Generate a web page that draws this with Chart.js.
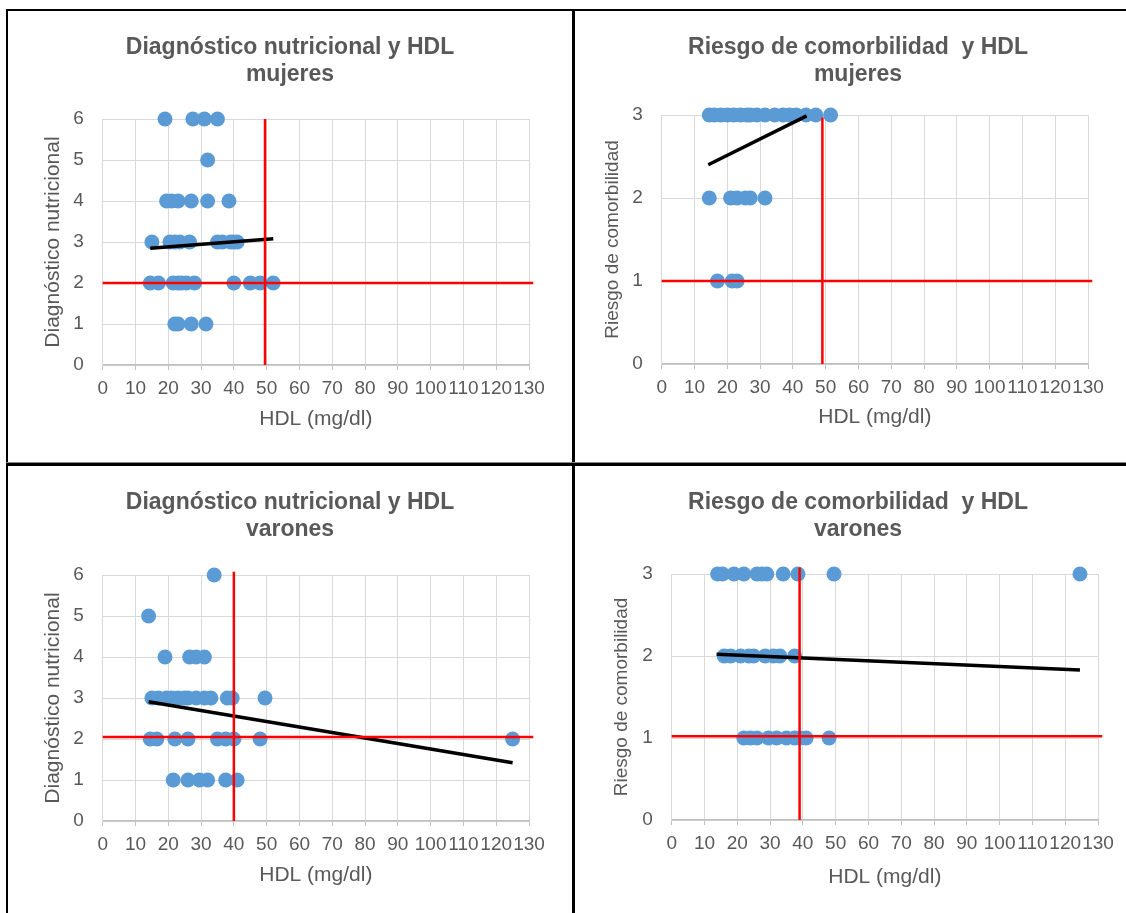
<!DOCTYPE html>
<html>
<head>
<meta charset="utf-8">
<script src="https://cdn.jsdelivr.net/npm/chart.js@4/dist/chart.umd.min.js"></script>
<style>
  body { margin: 0; background: #fff; width: 1126px; height: 913px; overflow: hidden; position: relative; }
  .line { position: absolute; background: #000; }
  .panel { position: absolute; }
</style>
</head>
<body>
<!-- table borders around the four charts -->
<div class="line" style="left:6px;top:9px;width:1120px;height:2px;"></div>
<div class="line" style="left:6px;top:9px;width:2px;height:904px;"></div>
<div class="line" style="left:572px;top:9px;width:3px;height:904px;"></div>
<div class="line" style="left:6px;top:462px;width:1120px;height:4px;background:linear-gradient(#888 0,#888 1px,#000 1px);"></div>

<div class="panel" style="left:9px;top:12px;"><canvas id="chartOne" width="562" height="450"></canvas></div>
<div class="panel" style="left:576px;top:12px;"><canvas id="chartTwo" width="550" height="450"></canvas></div>
<div class="panel" style="left:9px;top:466px;"><canvas id="chartThree" width="562" height="447"></canvas></div>
<div class="panel" style="left:576px;top:466px;"><canvas id="chartFour" width="550" height="447"></canvas></div>

<script>
// Setup values
var hdlTicks = [0, 10, 20, 30, 40, 50, 60, 70, 80, 90, 100, 110, 120, 130];
var dxTicks = [0, 1, 2, 3, 4, 5, 6];
var riskTicks = [0, 1, 2, 3];

// Diagnostico nutricional - mujeres
var dxMujHdl = [19, 27.5, 31, 35, 32, 19.5, 21, 23, 27, 32, 38.5,
  15, 20.5, 22, 23.5, 26.5, 35, 36.5, 39, 40, 41,
  14.5, 17, 21.5, 23, 24, 25.5, 28, 40, 45, 48, 52,
  22, 23, 27, 31.5];
var dxMujVal = [6, 6, 6, 6, 5, 4, 4, 4, 4, 4, 4,
  3, 3, 3, 3, 3, 3, 3, 3, 3, 3,
  2, 2, 2, 2, 2, 2, 2, 2, 2, 2, 2,
  1, 1, 1, 1];
var dxMujTrendHdl = [14.5, 52];
var dxMujTrendVal = [2.85, 3.08];

// Riesgo de comorbilidad - mujeres
var riskMujHdl = [14.5, 16, 18, 20, 22, 24, 26, 27, 29, 31.5, 34.5, 37, 39, 41, 44, 47, 51.5,
  14.5, 21, 23, 25.5, 27, 31.5,
  17, 21.5, 23];
var riskMujVal = [3, 3, 3, 3, 3, 3, 3, 3, 3, 3, 3, 3, 3, 3, 3, 3, 3,
  2, 2, 2, 2, 2, 2,
  1, 1, 1];
var riskMujTrendHdl = [14.2, 44.2];
var riskMujTrendVal = [2.4, 2.99];

// Diagnostico nutricional - varones
var dxVarHdl = [34, 14, 19, 26.5, 28.5, 31,
  15, 17, 19.5, 21, 23, 25, 26, 28.5, 31, 33, 38, 39.5, 49.5,
  14.5, 16.5, 22, 26, 35, 37.5, 40, 48, 125,
  21.5, 26, 29.5, 32, 37.5, 41];
var dxVarVal = [6, 5, 4, 4, 4, 4,
  3, 3, 3, 3, 3, 3, 3, 3, 3, 3, 3, 3, 3,
  2, 2, 2, 2, 2, 2, 2, 2, 2,
  1, 1, 1, 1, 1, 1];
var dxVarTrendHdl = [14, 125];
var dxVarTrendVal = [2.91, 1.42];

// Riesgo de comorbilidad - varones
var riskVarHdl = [14, 15.5, 19, 22, 26, 27.5, 29, 34, 38.5, 49.5, 124.5,
  16, 18, 21, 23.5, 25, 28.5, 31, 33, 37.5,
  22, 24, 26, 29.5, 32, 35, 37.5, 39, 41, 48];
var riskVarVal = [3, 3, 3, 3, 3, 3, 3, 3, 3, 3, 3,
  2, 2, 2, 2, 2, 2, 2, 2, 2,
  1, 1, 1, 1, 1, 1, 1, 1, 1, 1];
var riskVarTrendHdl = [13.7, 124.5];
var riskVarTrendVal = [2.02, 1.83];

// Red cut lines (HDL cut, value cut)
var cutMujHdl = [49.5, 49];
var cutVarHdl = [40, 39];
var cutDx = 2;
var cutRisk = 1;

var grey = "#595959";
var fontName = "'Liberation Sans', Arial, sans-serif";

// tiny helper instead of jQuery
function $(sel){ return document.querySelector(sel); }

function toPoints(xs, ys){
  return xs.map(function (x, i) { return { x: x, y: ys[i] }; });
}

function makeChart(id, cfg){
  var canvas = $("#" + id);
  var yTicks = cfg.yTicks;
  var yMax = yTicks[yTicks.length - 1];
  new Chart(canvas.getContext("2d"), {
    type: "scatter",
    data: {
      datasets: [
        // red vertical
        { type: "line", data: [{ x: cfg.cutX, y: 0 }, { x: cfg.cutX, y: cfg.cutTop }],
          borderColor: "#ff0000", borderWidth: 2.5, pointRadius: 0, clip: false },
        // red horizontal
        { type: "line", data: [{ x: 0, y: cfg.cutY }, { x: 131.3, y: cfg.cutY }],
          borderColor: "#ff0000", borderWidth: 2.5, pointRadius: 0, clip: false },
        // trend
        { type: "line", data: toPoints(cfg.trendX, cfg.trendY),
          borderColor: "#000000", borderWidth: 3.5, pointRadius: 0, clip: false },
        // points
        { data: toPoints(cfg.xs, cfg.ys), backgroundColor: "#5b9bd5",
          borderWidth: 0, pointRadius: 7.5, clip: false }
      ]
    },
    options: {
      responsive: false,
      animation: false,
      layout: { padding: { left: cfg.padLeft, right: cfg.padRight, top: 0, bottom: 0 } },
      plugins: {
        legend: { display: false },
        tooltip: { enabled: false },
        title: {
          display: true,
          text: cfg.title,
          color: grey,
          font: { family: fontName, size: 23, weight: "bold", lineHeight: 1.174 },
          padding: { top: cfg.titleTop, bottom: cfg.titleBottom }
        }
      },
      scales: {
        x: {
          type: "linear", min: 0, max: 130,
          afterFit: function (scale) { scale.height = cfg.xHeight; },
          afterBuildTicks: function (scale) { scale.ticks = hdlTicks.map(function (v) { return { value: v }; }); },
          grid: { color: "#d9d9d9", tickColor: "#bfbfbf", tickLength: 5 },
          border: { color: "#bfbfbf", width: 1.5 },
          ticks: { color: grey, font: { family: fontName, size: 19 }, padding: 7,
            autoSkip: false, maxRotation: 0, minRotation: 0 },
          title: { display: true, text: "HDL (mg/dl)", color: grey,
            font: { family: fontName, size: 21 }, padding: { top: 0, bottom: cfg.xTitlePad } }
        },
        y: {
          type: "linear", min: 0, max: yMax,
          afterFit: function (scale) { scale.width = cfg.yWidth; },
          afterBuildTicks: function (scale) { scale.ticks = yTicks.map(function (v) { return { value: v }; }); },
          grid: { color: "#d9d9d9", drawTicks: false },
          border: { color: "#d9d9d9" },
          ticks: { color: grey, font: { family: fontName, size: 19 }, padding: 19 },
          title: { display: true, text: cfg.yTitle, color: grey,
            font: { family: fontName, size: cfg.yTitleSize }, padding: { top: cfg.yTitlePad, bottom: 0 } }
        }
      }
    }
  });
}

makeChart("chartOne", {
  title: ["Diagnóstico nutricional y HDL", "mujeres"],
  yTitle: "Diagnóstico nutricional", yTitleSize: 21, yTitlePad: -10,
  yTicks: dxTicks, xs: dxMujHdl, ys: dxMujVal,
  trendX: dxMujTrendHdl, trendY: dxMujTrendVal,
  cutX: cutMujHdl[0], cutTop: 6, cutY: cutDx,
  padLeft: 42, padRight: 42, titleTop: 22, titleBottom: 31,
  xHeight: 97, xTitlePad: 30.4, yWidth: 51.7
});

makeChart("chartTwo", {
  title: ["Riesgo de comorbilidad  y HDL", "mujeres"],
  yTitle: "Riesgo de comorbilidad", yTitleSize: 19, yTitlePad: -26.4,
  yTicks: riskTicks, xs: riskMujHdl, ys: riskMujVal,
  trendX: riskMujTrendHdl, trendY: riskMujTrendVal,
  cutX: cutMujHdl[1], cutTop: 2.97, cutY: cutRisk,
  padLeft: 52, padRight: 38, titleTop: 22, titleBottom: 27,
  xHeight: 98, xTitlePad: 32.4, yWidth: 33.7
});

makeChart("chartThree", {
  title: ["Diagnóstico nutricional y HDL", "varones"],
  yTitle: "Diagnóstico nutricional", yTitleSize: 21, yTitlePad: -10,
  yTicks: dxTicks, xs: dxVarHdl, ys: dxVarVal,
  trendX: dxVarTrendHdl, trendY: dxVarTrendVal,
  cutX: cutVarHdl[0], cutTop: 6.08, cutY: cutDx + 0.05,
  padLeft: 42, padRight: 42, titleTop: 23.5, titleBottom: 31.5,
  xHeight: 92, xTitlePad: 25.4, yWidth: 51.7
});

makeChart("chartFour", {
  title: ["Riesgo de comorbilidad  y HDL", "varones"],
  yTitle: "Riesgo de comorbilidad", yTitleSize: 19, yTitlePad: -7.4,
  yTicks: riskTicks, xs: riskVarHdl, ys: riskVarVal,
  trendX: riskVarTrendHdl, trendY: riskVarTrendVal,
  cutX: cutVarHdl[1], cutTop: 3.08, cutY: cutRisk + 0.02,
  padLeft: 42, padRight: 28, titleTop: 23.5, titleBottom: 30.5,
  xHeight: 93, xTitlePad: 23.4, yWidth: 53.7
});
</script>
</body>
</html>
